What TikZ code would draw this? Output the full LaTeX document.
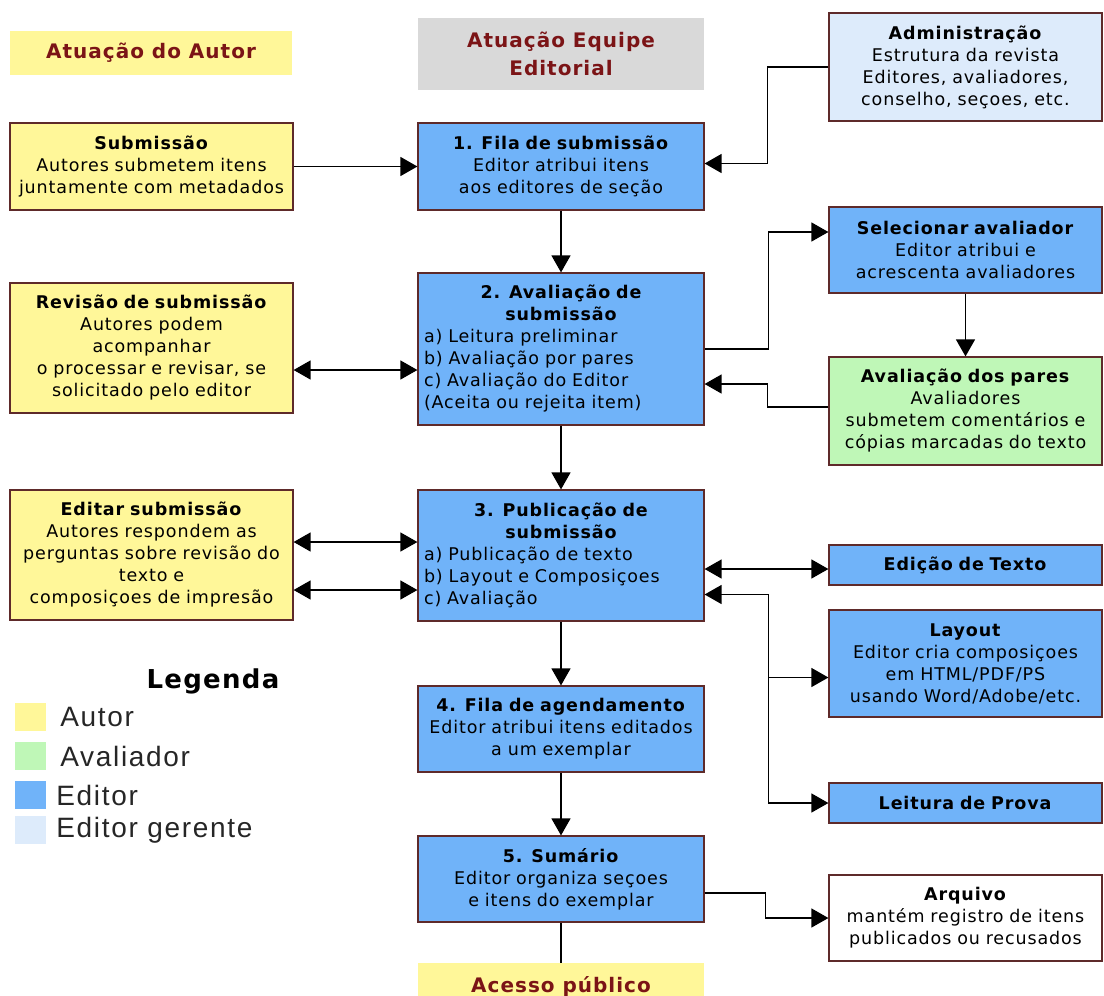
\documentclass[tikz,border=0pt]{standalone}
\usepackage{fontspec}
\setmainfont[LetterSpace=5]{DejaVu Sans}
\newfontfamily\legendfont[LetterSpace=6]{Liberation Sans}
\usepackage{xcolor}
\definecolor{autorYellow}{HTML}{FFF799}
\definecolor{editorBlue}{HTML}{70B3F9}
\definecolor{avalGreen}{HTML}{BFF7B7}
\definecolor{gerenteBlue}{HTML}{DDEBFB}
\definecolor{headGray}{HTML}{D9D9D9}
\definecolor{boxEdge}{HTML}{5E2A2A}
\definecolor{headRed}{HTML}{7B1416}
\usepackage{tikz}
\usetikzlibrary{positioning,calc,arrows.meta}
\newcommand{\boxFont}{\fontsize{17.5}{22}\selectfont}
\newcommand{\headFont}{\fontsize{20}{28}\selectfont\bfseries}
\tikzset{%
  flowBox/.style={%
    rectangle,
    draw=boxEdge,
    line width=1.2pt,
    inner sep=0pt,
    font=\boxFont
  },
  authorBox/.style={%
    flowBox,
    fill=autorYellow,
    minimum width=283pt,
    text width=271pt,
    align=center
  },
  editorBox/.style={%
    flowBox,
    fill=editorBlue,
    minimum width=286pt,
    text width=274pt,
    align=center
  },
  listBox/.style={%
    flowBox,
    fill=editorBlue,
    minimum width=286pt,
    text width=274pt
  },
  sideBox/.style={%
    flowBox,
    minimum width=273pt,
    text width=261pt,
    align=center
  },
  headBand/.style={%
    rectangle,
    inner sep=0pt,
    align=center,
    font=\headFont,
    text=headRed
  },
  arrowLine/.style={%
    -{Triangle[length=17pt,width=19pt]},
    line width=1.3pt
  },
  arrowBoth/.style={%
    {Triangle[length=17pt,width=19pt]}-{Triangle[length=17pt,width=19pt]},
    line width=1.3pt
  },
  plainLine/.style={line width=1.3pt},
  legSwatch/.style={%
    rectangle,
    minimum width=31pt,
    minimum height=28pt,
    inner sep=0pt
  },
  legLabel/.style={%
    anchor=west,
    inner sep=0pt,
    text=black!85,
    font=\legendfont\fontsize{28}{28}\selectfont
  }
}
\begin{document}
\begin{tikzpicture}[x=1pt,y=-1pt]
  \fill[white] (0,0) rectangle (1104,996);
  \useasboundingbox (0,0) rectangle (1104,996);

  % column heads
  \node[headBand, fill=autorYellow, minimum width=282pt, minimum height=44pt] (autorHead) at (151,53) {Atuação do Autor};
  \node[headBand, fill=headGray, minimum width=286pt, minimum height=72pt] (equipeHead) at (561,54) {Atuação Equipe\\Editorial};

  % boxes
  \node[sideBox, fill=gerenteBlue, minimum height=108pt] (admin) at (965.5,67) {\textbf{Administração}\\Estrutura da revista\\Editores, avaliadores,\\conselho, seçoes, etc.};
  \node[authorBox, minimum height=87pt] (submissao) at (151.5,166.5) {\textbf{Submissão}\\Autores submetem itens\\juntamente com metadados};
  \node[editorBox, minimum height=87pt] (fila) at (561,166.5) {\textbf{1. Fila de submissão}\\Editor atribui itens\\aos editores de seção};
  \node[sideBox, fill=editorBlue, minimum height=86pt] (selecionar) at (965.5,250) {\textbf{Selecionar avaliador}\\Editor atribui e\\acrescenta avaliadores};
  \node[listBox, minimum height=152pt] (avaliacao) at (561,349) {{\centering\bfseries 2. Avaliação de\\submissão\par}a) Leitura preliminar\\b) Avaliação por pares\\c) Avaliação do Editor\\(Aceita ou rejeita item)};
  \node[authorBox, minimum height=130pt] (revisao) at (151.5,348) {\textbf{Revisão de submissão}\\Autores podem\\acompanhar\\o processar e revisar, se\\solicitado pelo editor};
  \node[sideBox, fill=avalGreen, minimum height=108pt] (pares) at (965.5,411) {\textbf{Avaliação dos pares}\\Avaliadores\\submetem comentários e\\cópias marcadas do texto};
  \node[authorBox, minimum height=130pt] (editar) at (151.5,555) {\textbf{Editar submissão}\\Autores respondem as\\perguntas sobre revisão do\\texto e\\composiçoes de impresão};
  \node[listBox, minimum height=131pt] (publicacao) at (561,555.5) {{\centering\bfseries 3. Publicação de\\submissão\par}a) Publicação de texto\\b) Layout e Composiçoes\\c) Avaliação};
  \node[sideBox, fill=editorBlue, minimum height=40pt] (edicao) at (965.5,565) {\textbf{Edição de Texto}};
  \node[sideBox, fill=editorBlue, minimum height=107pt] (layout) at (965.5,663.5) {\textbf{Layout}\\Editor cria composiçoes\\em HTML/PDF/PS\\usando Word/Adobe/etc.};
  \node[editorBox, minimum height=86pt] (agenda) at (561,729) {\textbf{4. Fila de agendamento}\\Editor atribui itens editados\\a um exemplar};
  \node[sideBox, fill=editorBlue, minimum height=40pt] (leitura) at (965.5,803) {\textbf{Leitura de Prova}};
  \node[editorBox, minimum height=86pt] (sumario) at (561,879) {\textbf{5. Sumário}\\Editor organiza seçoes\\e itens do exemplar};
  \node[sideBox, fill=white, minimum height=86pt] (arquivo) at (965.5,918) {\textbf{Arquivo}\\mantém registro de itens\\publicados ou recusados};
  \node[headBand, fill=autorYellow, minimum width=286pt, minimum height=47pt] (acesso) at (561,986.5) {Acesso público};

  % legend
  \node[font=\bfseries\fontsize{26}{26}\selectfont] (legTitle) at (213,681) {Legenda};
  \node[legSwatch, fill=autorYellow] (legAutor) at (30.5,717) {};
  \node[legSwatch, fill=avalGreen] (legAval) at (30.5,756) {};
  \node[legSwatch, fill=editorBlue] (legEditor) at (30.5,795) {};
  \node[legSwatch, fill=gerenteBlue] (legGerente) at (30.5,830) {};
  \node[legLabel, right=14pt of legAutor] (legAutorTxt) {Autor};
  \node[legLabel, right=14pt of legAval] (legAvalTxt) {Avaliador};
  \node[legLabel, right=10pt of legEditor] (legEditorTxt) {Editor};
  \node[legLabel, right=10pt of legGerente] (legGerenteTxt) {Editor gerente};

  % main flow
  \draw[arrowLine] (submissao) -- (fila);
  \draw[arrowLine] (fila) -- (avaliacao);
  \draw[arrowLine] (avaliacao) -- (publicacao);
  \draw[arrowLine] (publicacao) -- (agenda);
  \draw[arrowLine] (agenda) -- (sumario);
  \draw[plainLine] (sumario) -- (acesso);

  % side links
  \draw[arrowLine] (admin.west) -- ++(-61,0) |- ($(fila.east)+(0,-3)$);
  \draw[arrowLine] (avaliacao.east) -- ++(64,0) |- ($(selecionar.west)+(0,-18)$);
  \draw[arrowLine] (selecionar) -- (pares);
  \draw[arrowLine] ($(pares.west)+(0,-4)$) -- ++(-61,0) |- ($(avaliacao.east)+(0,35)$);
  \draw[arrowBoth] ($(revisao.east)+(0,22)$) -- ($(revisao.east -| avaliacao.west)+(0,22)$);
  \draw[arrowBoth] ($(editar.east)+(0,-13)$) -- ($(editar.east -| publicacao.west)+(0,-13)$);
  \draw[arrowBoth] ($(editar.east)+(0,35)$) -- ($(editar.east -| publicacao.west)+(0,35)$);
  \draw[arrowBoth] ($(publicacao.east |- edicao.west)+(0,4)$) -- ($(edicao.west)+(0,4)$);
  \coordinate (busProva) at ($(publicacao.east)+(64,39)$);
  \draw[arrowBoth] ($(publicacao.east)+(0,39)$) -- (busProva) |- (leitura.west);
  \draw[arrowLine] ($(busProva |- layout.west)+(0,14)$) -- ($(layout.west)+(0,14)$);
  \draw[arrowLine] ($(sumario.east)+(0,14)$) -- ++(61,0) |- (arquivo.west);
\end{tikzpicture}
\end{document}
